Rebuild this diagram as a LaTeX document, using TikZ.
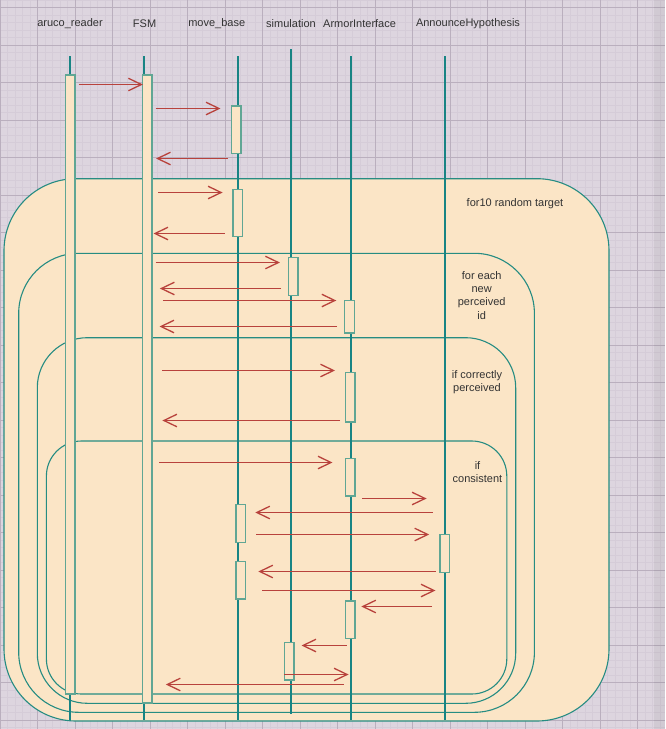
\documentclass[tikz,border=0pt]{standalone}
\usepackage{fontspec}
\setmainfont{Liberation Sans}
\usetikzlibrary{arrows.meta}
\definecolor{gridbg}{RGB}{221,213,223}
\definecolor{gridminor}{RGB}{213,204,216}
\definecolor{gridmajor}{RGB}{186,175,190}
\definecolor{fragfill}{RGB}{251,229,198}
\definecolor{fragline}{RGB}{38,140,130}
\definecolor{lifeteal}{RGB}{24,132,132}
\definecolor{barline}{RGB}{96,166,148}
\definecolor{msgred}{RGB}{184,66,60}
\definecolor{txtgrey}{RGB}{51,51,51}

\begin{document}
\begin{tikzpicture}[x=1pt,y=-1pt,
	frag/.style={draw=fragline,fill=fragfill,line width=1.1pt},
	life/.style={draw=lifeteal,line width=2pt},
	bar/.style={draw=barline,fill=fragfill,line width=1.5pt,inner sep=0pt,minimum width=9.6pt},
	msg/.style={draw=msgred,line width=1.3pt,-{Straight Barb[length=13pt,width=12.5pt]}},
	lbl/.style={text=txtgrey,font=\fontsize{11}{13.3}\selectfont,inner sep=0pt,align=center}]
\useasboundingbox (0,0) rectangle (665,729);
\fill[gridbg] (0,0) rectangle (665,729);
\foreach \g in {0,7.5,...,665}{
	\draw[gridminor,line width=0.5pt] (\g,0) -- (\g,729);
}
\foreach \g in {0,7.5,...,729}{
	\draw[gridminor,line width=0.5pt] (0,\g) -- (665,\g);
}
\foreach \g in {0,37.5,...,665}{
	\draw[gridmajor,line width=0.7pt] (\g,0) -- (\g,729);
}
\foreach \g in {7.5,45,...,729}{
	\draw[gridmajor,line width=0.7pt] (0,\g) -- (665,\g);
}
\fill[black,opacity=0.05] (654,0) rectangle (665,729);
\draw[frag,rounded corners=72pt] (4,178.7) rectangle (609,721);
\draw[frag,rounded corners=60pt] (18.7,253.3) rectangle (534.4,712.3);
\draw[frag,rounded corners=50pt] (37.3,337.7) rectangle (515.7,703.3);
\draw[frag,rounded corners=35pt] (46.4,441) rectangle (506.8,694);
\node[lbl] (for-target) at (515,204) {for10 random target};
\node[lbl] (for-each) at (481.7,295.2) {for each\\new\\perceived\\id};
\node[lbl] (if-perceived) at (477,382.3) {if correctly\\perceived};
\node[lbl] (if-consistent) at (477.5,472.2) {if\\consistent};
\node[lbl] (aruco) at (70,24) {aruco\_reader};
\node[lbl] (fsm) at (144.6,24) {FSM};
\node[lbl] (move) at (216.7,24) {move\_base};
\node[lbl] (sim) at (291,24) {simulation};
\node[lbl] (armor) at (359.6,24) {ArmorInterface};
\node[lbl] (announce) at (468,24) {AnnounceHypothesis};
\foreach \n/\x/\t/\b in {aruco/70/56/720,fsm/144.4/56/720,move/238.3/56/720,
	sim/291/49/714,armor/350.7/56/720,announce/444.9/56/720}{
	\coordinate (\n-top) at (\x,\t);
	\coordinate (\n-end) at (\x,\b);
	\draw[life] (\n-top) -- (\n-end);
}
\foreach \n/\x/\t/\b in {b-aruco/70.4/75/694,b-fsm/147.1/75/703,
	b-move1/236.2/106/153.3,b-move2/237.9/189.3/236.7,b-sim1/293.3/257.3/295.3,
	b-armor1/349.5/300.3/333,b-armor2/350.3/372.3/422,b-armor3/350.3/458.7/496,
	b-move3/240.7/504.3/542.3,b-move4/240.7/561.7/599,b-announce/444.9/534.3/572.3,
	b-armor4/350.3/601/638.7,b-sim2/289.2/642.7/680}{
	\node[bar,minimum height={(\b-\t)*1pt}] (\n) at (\x,{(\t+\b)/2}) {};
}
\foreach \i/\a/\c/\y in {1/78.9/142.9/84.5,2/155.6/220.5/108.5,3/227.7/156/158.5,
	4/158.2/222.6/192.5,5/224.8/153.5/233.5,6/155.6/279.9/262.5,7/281.2/159.9/288.5,
	8/162.9/336.3/300.5,9/337.2/159.5/326.5,10/162/335/370.5,11/340/162.4/420.5,
	12/159/332.5/462.5,13/362.2/426.6/498.5,14/432.6/255.3/512.5,15/256.2/429.2/534.5,
	16/435.5/258.3/571.5,17/262.1/435.5/590.5,18/432.1/361.3/606.5,
	19/346.9/301.5/645.5,20/284.1/348.6/674.5,21/343.9/165.8/684.5}{
	\coordinate (m\i-from) at (\a,\y);
	\coordinate (m\i-to) at (\c,\y);
	\draw[msg] (m\i-from) -- (m\i-to);
}
\end{tikzpicture}
\end{document}
